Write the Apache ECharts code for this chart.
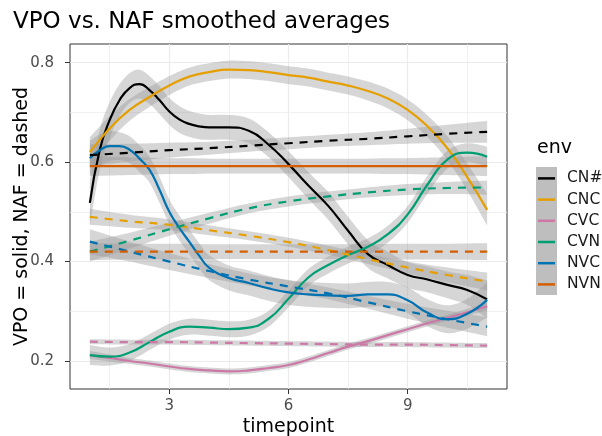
<!DOCTYPE html>
<html><head><meta charset="utf-8">
<script src="https://cdn.jsdelivr.net/npm/echarts@6/dist/echarts.min.js"></script>
<style>html,body{margin:0;padding:0;background:#fff}#c{width:602px;height:436px}</style>
</head><body><div id="c"></div>
<script>
const FONT = 'DejaVu Sans';
const envs = ['CN#', 'CNC', 'CVC', 'CVN', 'NVC', 'NVN'];
const colors = ['#000000', '#E69F00', '#CC79A7', '#009E73', '#0072B2', '#D55E00'];

const xFine = [1, 1.5, 2, 2.5, 3, 3.5, 4, 4.5, 5, 5.5, 6, 6.5, 7, 7.5, 8, 8.5, 9, 9.5, 10, 10.5, 11];
const xDense = [1, 1.25, 1.5, 1.75, 2, 2.25, 2.5, 2.75, 3, 3.25, 3.5, 3.75, 4, 4.5, 5, 5.5, 6, 6.5, 7, 7.5, 8, 8.5, 9, 9.5, 10, 10.5, 11];
const xInt = [1, 2, 3, 4, 5, 6, 7, 8, 9, 10, 11];

// VPO (solid) smoothed averages
const vpoCN = [0.518, 0.625, 0.685, 0.725, 0.749, 0.757, 0.745, 0.725, 0.702, 0.686, 0.677, 0.672, 0.670, 0.670, 0.663, 0.635, 0.596, 0.553, 0.512, 0.462, 0.415, 0.393, 0.373, 0.364, 0.353, 0.343, 0.324]; // xDense
const vpoCNC = [0.620, 0.668, 0.705, 0.731, 0.754, 0.772, 0.781, 0.786, 0.785, 0.781, 0.775, 0.770, 0.762, 0.754, 0.743, 0.728, 0.705, 0.672, 0.628, 0.570, 0.504]; // xFine
const vpoCVC = [0.212, 0.206, 0.200, 0.195, 0.189, 0.184, 0.181, 0.179, 0.181, 0.186, 0.192, 0.203, 0.216, 0.229, 0.240, 0.252, 0.264, 0.276, 0.287, 0.298, 0.310]; // xFine
const vpoCVN = [0.212, 0.209, 0.217, 0.238, 0.259, 0.269, 0.267, 0.264, 0.267, 0.285, 0.325, 0.368, 0.393, 0.413, 0.430, 0.455, 0.495, 0.555, 0.605, 0.619, 0.611]; // xFine
const vpoNVC = [0.608, 0.624, 0.632, 0.632, 0.625, 0.607, 0.585, 0.545, 0.500, 0.468, 0.440, 0.412, 0.388, 0.367, 0.357, 0.346, 0.338, 0.334, 0.332, 0.331, 0.334, 0.334, 0.322, 0.297, 0.284, 0.295, 0.323]; // xDense
const vpoNVN = [0.592, 0.592, 0.592, 0.592, 0.592, 0.592, 0.592, 0.592, 0.592, 0.592, 0.592, 0.592, 0.592, 0.592, 0.592, 0.592, 0.592, 0.592, 0.592, 0.592, 0.592]; // xFine

// VPO confidence-band half widths
const vpoCNse = [0.045, 0.040, 0.036, 0.032, 0.030, 0.029, 0.028, 0.028, 0.027, 0.027, 0.026, 0.026, 0.025, 0.025, 0.025, 0.025, 0.026, 0.027, 0.028, 0.028, 0.028, 0.027, 0.026, 0.026, 0.027, 0.030, 0.038];
const vpoCNCse = [0.030, 0.025, 0.022, 0.020, 0.019, 0.018, 0.018, 0.018, 0.018, 0.018, 0.018, 0.018, 0.018, 0.018, 0.019, 0.020, 0.021, 0.022, 0.024, 0.027, 0.032];
const vpoCVCse = [0.008, 0.007, 0.006, 0.006, 0.006, 0.006, 0.006, 0.006, 0.006, 0.006, 0.006, 0.006, 0.006, 0.006, 0.006, 0.006, 0.006, 0.006, 0.006, 0.007, 0.008];
const vpoCVNse = [0.020, 0.018, 0.017, 0.016, 0.016, 0.016, 0.016, 0.016, 0.016, 0.016, 0.017, 0.017, 0.017, 0.017, 0.017, 0.017, 0.017, 0.018, 0.018, 0.019, 0.020];
const vpoNVCse = [0.035, 0.032, 0.030, 0.028, 0.027, 0.027, 0.026, 0.026, 0.025, 0.025, 0.025, 0.025, 0.025, 0.025, 0.025, 0.025, 0.025, 0.025, 0.025, 0.025, 0.025, 0.025, 0.026, 0.027, 0.028, 0.030, 0.035];
const vpoNVNse = [0.020, 0.019, 0.018, 0.017, 0.016, 0.016, 0.015, 0.015, 0.015, 0.015, 0.015, 0.015, 0.015, 0.015, 0.015, 0.016, 0.016, 0.017, 0.018, 0.019, 0.020];

// NAF (dashed) smoothed averages, at xInt
const nafCN = [0.614, 0.619, 0.624, 0.628, 0.633, 0.638, 0.643, 0.647, 0.652, 0.657, 0.661];
const nafCNC = [0.490, 0.481, 0.474, 0.463, 0.452, 0.439, 0.423, 0.405, 0.388, 0.373, 0.360];
const nafCVC = [0.239, 0.238, 0.238, 0.237, 0.236, 0.235, 0.234, 0.233, 0.233, 0.232, 0.231];
const nafCVN = [0.420, 0.442, 0.465, 0.487, 0.507, 0.521, 0.531, 0.539, 0.545, 0.548, 0.549];
const nafNVC = [0.440, 0.420, 0.400, 0.381, 0.364, 0.350, 0.336, 0.318, 0.300, 0.284, 0.269];
const nafNVN = [0.420, 0.420, 0.420, 0.420, 0.420, 0.420, 0.420, 0.420, 0.420, 0.420, 0.420];

// NAF band half widths, at xInt
const nafCNse = [0.022, 0.018, 0.015, 0.013, 0.012, 0.012, 0.012, 0.013, 0.015, 0.018, 0.022];
const nafCNCse = [0.016, 0.013, 0.011, 0.010, 0.009, 0.009, 0.009, 0.010, 0.012, 0.015, 0.018];
const nafCVCse = [0.005, 0.005, 0.005, 0.005, 0.005, 0.005, 0.005, 0.005, 0.005, 0.005, 0.005];
const nafCVNse = [0.020, 0.016, 0.013, 0.011, 0.010, 0.010, 0.010, 0.010, 0.011, 0.012, 0.014];
const nafNVCse = [0.025, 0.020, 0.017, 0.014, 0.012, 0.012, 0.012, 0.013, 0.015, 0.017, 0.019];
const nafNVNse = [0.017, 0.016, 0.016, 0.015, 0.015, 0.015, 0.015, 0.015, 0.016, 0.016, 0.017];

const xTicks = [3, 6, 9];
const xMinor = [1.5, 4.5, 7.5, 10.5];
const yTicks = [0.2, 0.4, 0.6, 0.8];
const yMinor = [0.3, 0.5, 0.7];

const vpoX = [xDense, xFine, xFine, xFine, xDense, xFine];
const vpo = [vpoCN, vpoCNC, vpoCVC, vpoCVN, vpoNVC, vpoNVN];
const vpoSe = [vpoCNse, vpoCNCse, vpoCVCse, vpoCVNse, vpoNVCse, vpoNVNse];
const naf = [nafCN, nafCNC, nafCVC, nafCVN, nafNVC, nafNVN];
const nafSe = [nafCNse, nafCNCse, nafCVCse, nafCVNse, nafNVCse, nafNVNse];

function catmull(pts, steps) {
  const out = [];
  for (let i = 0; i < pts.length - 1; i++) {
    const p0 = pts[Math.max(i - 1, 0)], p1 = pts[i], p2 = pts[i + 1], p3 = pts[Math.min(i + 2, pts.length - 1)];
    for (let s = 0; s < steps; s++) {
      const t = s / steps, t2 = t * t, t3 = t2 * t;
      const f = (a, b, c, d) => 0.5 * ((2 * b) + (-a + c) * t + (2 * a - 5 * b + 4 * c - d) * t2 + (-a + 3 * b - 3 * c + d) * t3);
      out.push([f(p0[0], p1[0], p2[0], p3[0]), f(p0[1], p1[1], p2[1], p3[1])]);
    }
  }
  out.push(pts[pts.length - 1]);
  return out;
}

function bandSeries(name, xs, ys, se) {
  return {
    name: name, type: 'custom', silent: true, z: 2,
    data: xs.map((x, i) => [x, ys[i] - se[i], ys[i] + se[i]]),
    encode: { x: 0, y: [1, 2] },
    renderItem: function (params, api) {
      if (params.dataIndexInside !== 0) return;
      const n = params.dataInsideLength;
      const top = [], bot = [];
      for (let i = 0; i < n; i++) {
        const x = api.value(0, i);
        bot.push(api.coord([x, api.value(1, i)]));
        top.push(api.coord([x, api.value(2, i)]));
      }
      const pts = catmull(top, 8).concat(catmull(bot, 8).reverse());
      return { type: 'polygon', shape: { points: pts }, style: { fill: 'rgba(153,153,153,0.4)', stroke: null } };
    }
  };
}
function lineSeries(name, xs, ys, color, dashed) {
  return {
    name: name, type: 'line', smooth: true, symbol: 'none', z: 3,
    data: xs.map((x, i) => [x, ys[i]]),
    color: color,
    itemStyle: { color: color },
    lineStyle: { color: color, width: 2.2, type: dashed ? [8, 7] : 'solid' },
    emphasis: { disabled: true }
  };
}

const series = [];
envs.forEach((e, k) => {
  series.push(bandSeries(e + ' band', vpoX[k], vpo[k], vpoSe[k]));
  series.push(lineSeries(e, vpoX[k], vpo[k], colors[k], false));
});
envs.forEach((e, k) => {
  series.push(bandSeries(e + ' NAF band', xInt, naf[k], nafSe[k]));
  series.push(lineSeries(e + ' NAF', xInt, naf[k], colors[k], true));
});

const chart = echarts.init(document.getElementById('c'), null, { renderer: 'canvas' });
chart.setOption({
  animation: false,
  backgroundColor: '#ffffff',
  title: { text: 'VPO vs. NAF smoothed averages', left: 8, top: 6,
    textStyle: { fontFamily: FONT, fontSize: 23, fontWeight: 'normal', color: '#000' } },
  grid: { left: 70, right: 95, top: 44, bottom: 47, show: true, borderColor: '#333333', borderWidth: 1,
    backgroundColor: '#ffffff', containLabel: false, outerBoundsMode: 'none' },
  legend: {
    orient: 'vertical', left: 538, top: 167.8, padding: 0, itemWidth: 17, itemHeight: 2.5, itemGap: 0, icon: 'rect',
    data: envs, selectedMode: false,
    textStyle: { fontFamily: FONT, fontSize: 15.5, color: '#1a1a1a', lineHeight: 21.2, padding: [0, 0, 0, 7] }
  },
  graphic: [
    { type: 'rect', left: 536, top: 167, z: 0, shape: { width: 21, height: 128 }, style: { fill: '#bebebe' } },
    { type: 'text', left: 537, top: 139, z: 5, style: { text: 'env', fontFamily: FONT, fontSize: 19, fill: '#000' } }
  ],
  xAxis: [
    { type: 'value', min: 0.5, max: 11.5,
      name: 'timepoint', nameLocation: 'middle', nameGap: 29, nameMoveOverlap: false,
      nameTextStyle: { fontFamily: FONT, fontSize: 19, color: '#000' },
      axisLine: { show: false },
      axisTick: { show: true, length: 5, customValues: xTicks, lineStyle: { color: '#333333' } },
      axisLabel: { customValues: xTicks, fontFamily: FONT, fontSize: 15, color: '#4d4d4d', margin: 10 },
      splitLine: { show: true, lineStyle: { color: '#ebebeb', width: 1.2 } } },
    { type: 'value', min: 0.5, max: 11.5, position: 'top',
      axisLine: { show: false }, axisTick: { show: false, customValues: xMinor },
      axisLabel: { show: false, customValues: xMinor },
      splitLine: { show: true, lineStyle: { color: '#ebebeb', width: 0.7 } } }
  ],
  yAxis: [
    { type: 'value', min: 0.1437, max: 0.8376,
      name: 'VPO = solid, NAF = dashed', nameLocation: 'middle', nameGap: 38, nameRotate: 90, nameMoveOverlap: false,
      nameTextStyle: { fontFamily: FONT, fontSize: 19, color: '#000' },
      axisLine: { show: false },
      axisTick: { show: true, length: 5, customValues: yTicks, lineStyle: { color: '#333333' } },
      axisLabel: { customValues: yTicks, fontFamily: FONT, fontSize: 15, color: '#4d4d4d', margin: 16,
        formatter: v => v.toFixed(1) },
      splitLine: { show: true, lineStyle: { color: '#ebebeb', width: 1.2 } } },
    { type: 'value', min: 0.1437, max: 0.8376, position: 'right',
      axisLine: { show: false }, axisTick: { show: false, customValues: yMinor },
      axisLabel: { show: false, customValues: yMinor },
      splitLine: { show: true, lineStyle: { color: '#ebebeb', width: 0.7 } } }
  ],
  series: series
});
</script></body></html>
